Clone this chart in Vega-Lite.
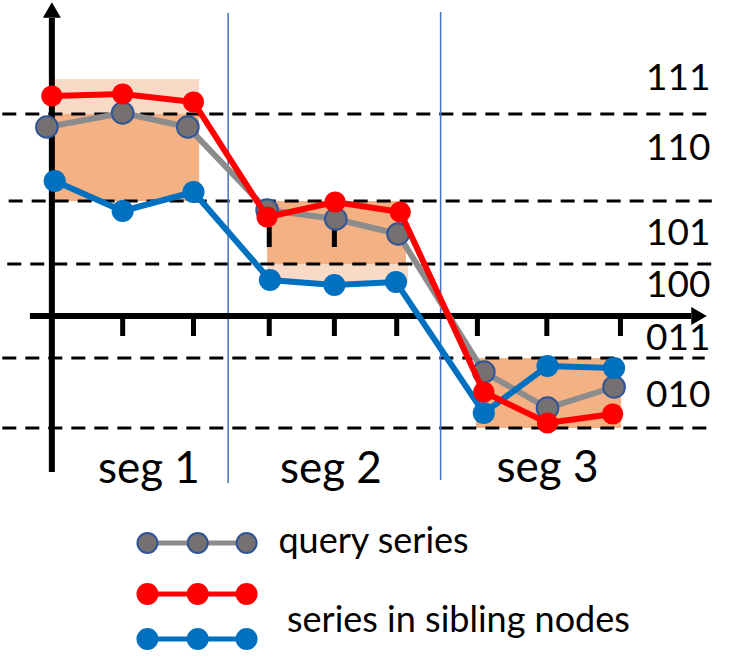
{
  "$schema": "https://vega.github.io/schema/vega-lite/v6.json",
  "width": 742,
  "height": 660,
  "padding": 0,
  "autosize": {"type": "fit", "contains": "padding"},
  "background": "white",
  "config": {"view": {"stroke": null}},
  "resolve": {"scale": {"color": "independent", "fill": "independent", "stroke": "independent", "shape": "independent"}},
  "datasets": {
    "series": [
      {"series": "query", "t": -0.07, "v": 18.9},
      {"series": "query", "t": 1.0, "v": 20.3},
      {"series": "query", "t": 1.92, "v": 18.9},
      {"series": "query", "t": 3.04, "v": 10.6},
      {"series": "query", "t": 4.01, "v": 9.7},
      {"series": "query", "t": 4.89, "v": 8.2},
      {"series": "query", "t": 6.1, "v": -5.6},
      {"series": "query", "t": 7.0, "v": -9.2},
      {"series": "query", "t": 7.94, "v": -7.1},
      {"series": "red", "t": 0.0, "v": 22.0},
      {"series": "red", "t": 1.0, "v": 22.2},
      {"series": "red", "t": 2.0, "v": 21.4},
      {"series": "red", "t": 3.04, "v": 9.9},
      {"series": "red", "t": 4.0, "v": 11.4},
      {"series": "red", "t": 4.92, "v": 10.4},
      {"series": "red", "t": 6.1, "v": -7.6},
      {"series": "red", "t": 7.0, "v": -10.7},
      {"series": "red", "t": 7.92, "v": -9.8},
      {"series": "blue", "t": 0.04, "v": 13.5},
      {"series": "blue", "t": 1.0, "v": 10.5},
      {"series": "blue", "t": 2.0, "v": 12.4},
      {"series": "blue", "t": 3.08, "v": 3.6},
      {"series": "blue", "t": 3.99, "v": 3.1},
      {"series": "blue", "t": 4.86, "v": 3.4},
      {"series": "blue", "t": 6.1, "v": -9.7},
      {"series": "blue", "t": 7.0, "v": -5.0},
      {"series": "blue", "t": 7.94, "v": -5.2}
    ],
    "boxes": [
      {"kind": "light", "t1": 0.03, "t2": 2.08, "v1": 23.7, "v2": 20.2},
      {"kind": "dark", "t1": 0.03, "t2": 2.08, "v1": 20.2, "v2": 11.5},
      {"kind": "dark", "t1": 3.04, "t2": 5.0, "v1": 11.5, "v2": 5.2},
      {"kind": "light", "t1": 3.04, "t2": 5.03, "v1": 5.2, "v2": 3.3},
      {"kind": "dark", "t1": 5.99, "t2": 8.04, "v1": -4.2, "v2": -11.2}
    ],
    "levels": [
      {"v": 20.2, "t1": -0.7, "t2": 9.25},
      {"v": 11.5, "t1": -0.61, "t2": 9.32},
      {"v": 5.2, "t1": -0.63, "t2": 9.32},
      {"v": -4.2, "t1": -0.7, "t2": 9.22},
      {"v": -11.2, "t1": -0.7, "t2": 9.25}
    ],
    "dividers": [
      {"t": 2.49, "v1": 30.3, "v2": -16.7},
      {"t": 5.49, "v1": 30.4, "v2": -16.4}
    ],
    "axes": [
      {"axis": "y", "t1": 0, "t2": 0, "v1": -15.6, "v2": 29.8},
      {"axis": "x", "t1": -0.31, "t2": 9.03, "v1": 0, "v2": 0}
    ],
    "arrows": [
      {"axis": "y", "t": 0, "v": 30.6},
      {"axis": "x", "t": 9.14, "v": 0}
    ],
    "ticks": [
      {"t": 1.0, "v1": 0, "v2": -2.0},
      {"t": 2.0, "v1": 0, "v2": -2.0},
      {"t": 3.07, "v1": 0, "v2": -2.0},
      {"t": 3.99, "v1": 0, "v2": -2.0},
      {"t": 4.87, "v1": 0, "v2": -2.0},
      {"t": 6.01, "v1": 0, "v2": -2.0},
      {"t": 6.99, "v1": 0, "v2": -2.0},
      {"t": 8.03, "v1": 0, "v2": -2.0},
      {"t": 3.07, "v1": 8.9, "v2": 6.9},
      {"t": 3.99, "v1": 8.9, "v2": 6.9}
    ],
    "codes": [
      {"label": "111", "t": 9.3, "v": 22.6},
      {"label": "110", "t": 9.3, "v": 15.6},
      {"label": "101", "t": 9.3, "v": 7.1},
      {"label": "100", "t": 9.3, "v": 1.9},
      {"label": "011", "t": 9.3, "v": -3.4},
      {"label": "010", "t": 9.3, "v": -9.1}
    ],
    "segs": [
      {"label": "seg 1", "t": 1.37, "v": -16.7},
      {"label": "seg 2", "t": 3.94, "v": -16.7},
      {"label": "seg 3", "t": 7.0, "v": -16.6}
    ],
    "legend": [
      {"series": "query", "t": 1.35, "v": -22.7},
      {"series": "query", "t": 2.06, "v": -22.7},
      {"series": "query", "t": 2.75, "v": -22.7},
      {"series": "red", "t": 1.35, "v": -27.8},
      {"series": "red", "t": 2.06, "v": -27.8},
      {"series": "red", "t": 2.75, "v": -27.8},
      {"series": "blue", "t": 1.35, "v": -32.3},
      {"series": "blue", "t": 2.06, "v": -32.3},
      {"series": "blue", "t": 2.75, "v": -32.3}
    ],
    "legendText": [
      {"label": "query series", "t": 3.2, "v": -23.7},
      {"label": "series in sibling nodes", "t": 3.32, "v": -31.6}
    ]
  },
  "layer": [
    {
      "data": {"name": "boxes"},
      "mark": {"type": "rect"},
      "encoding": {
        "x": {"field": "t1", "type": "quantitative", "scale": {"domain": [-0.7042, 9.7465], "nice": false, "zero": false}, "axis": null},
        "x2": {"field": "t2"},
        "y": {"field": "v1", "type": "quantitative", "scale": {"domain": [-34.4, 31.6], "nice": false, "zero": false}, "axis": null},
        "y2": {"field": "v2"},
        "fill": {"field": "kind", "type": "nominal", "scale": {"domain": ["light", "dark"], "range": ["#F9DAC6", "#F4B183"]}, "legend": null}
      }
    },
    {
      "data": {"name": "levels"},
      "mark": {"type": "rule", "color": "black", "strokeWidth": 3, "strokeDash": [14, 9]},
      "encoding": {
        "x": {"field": "t1", "type": "quantitative"},
        "x2": {"field": "t2"},
        "y": {"field": "v", "type": "quantitative"}
      }
    },
    {
      "data": {"name": "dividers"},
      "mark": {"type": "rule", "color": "#4472C4", "strokeWidth": 1.5},
      "encoding": {
        "x": {"field": "t", "type": "quantitative"},
        "y": {"field": "v1", "type": "quantitative"},
        "y2": {"field": "v2"}
      }
    },
    {
      "data": {"name": "axes"},
      "mark": {"type": "rule", "color": "black", "strokeWidth": 6},
      "encoding": {
        "x": {"field": "t1", "type": "quantitative"},
        "x2": {"field": "t2"},
        "y": {"field": "v1", "type": "quantitative"},
        "y2": {"field": "v2"}
      }
    },
    {
      "data": {"name": "arrows"},
      "mark": {"type": "point", "filled": true, "color": "black", "opacity": 1, "size": 324},
      "encoding": {
        "x": {"field": "t", "type": "quantitative"},
        "y": {"field": "v", "type": "quantitative"},
        "shape": {"field": "axis", "type": "nominal", "scale": {"domain": ["y", "x"], "range": ["triangle-up", "triangle-right"]}, "legend": null}
      }
    },
    {
      "data": {"name": "ticks"},
      "mark": {"type": "rule", "color": "black", "strokeWidth": 5},
      "encoding": {
        "x": {"field": "t", "type": "quantitative"},
        "y": {"field": "v1", "type": "quantitative"},
        "y2": {"field": "v2"}
      }
    },
    {
      "data": {"name": "series"},
      "transform": [{"filter": "datum.series === 'query'"}],
      "mark": {"type": "line", "color": "#8C8C8C", "strokeWidth": 6},
      "encoding": {
        "x": {"field": "t", "type": "quantitative"},
        "y": {"field": "v", "type": "quantitative"}
      }
    },
    {
      "data": {"name": "series"},
      "transform": [{"filter": "datum.series === 'query'"}],
      "mark": {"type": "point", "filled": true, "fill": "#767171", "stroke": "#2F5597", "strokeWidth": 2, "opacity": 1, "shape": "circle", "size": 470},
      "encoding": {
        "x": {"field": "t", "type": "quantitative"},
        "y": {"field": "v", "type": "quantitative"}
      }
    },
    {
      "data": {"name": "series"},
      "transform": [{"filter": "datum.series === 'blue'"}],
      "mark": {"type": "line", "color": "#0070C0", "strokeWidth": 6},
      "encoding": {
        "x": {"field": "t", "type": "quantitative"},
        "y": {"field": "v", "type": "quantitative"}
      }
    },
    {
      "data": {"name": "series"},
      "transform": [{"filter": "datum.series === 'blue'"}],
      "mark": {"type": "point", "filled": true, "color": "#0070C0", "opacity": 1, "shape": "circle", "size": 490},
      "encoding": {
        "x": {"field": "t", "type": "quantitative"},
        "y": {"field": "v", "type": "quantitative"}
      }
    },
    {
      "data": {"name": "series"},
      "transform": [{"filter": "datum.series === 'red'"}],
      "mark": {"type": "line", "color": "#FF0000", "strokeWidth": 6},
      "encoding": {
        "x": {"field": "t", "type": "quantitative"},
        "y": {"field": "v", "type": "quantitative"}
      }
    },
    {
      "data": {"name": "series"},
      "transform": [{"filter": "datum.series === 'red'"}],
      "mark": {"type": "point", "filled": true, "color": "#FF0000", "opacity": 1, "shape": "circle", "size": 450},
      "encoding": {
        "x": {"field": "t", "type": "quantitative"},
        "y": {"field": "v", "type": "quantitative"}
      }
    },
    {
      "data": {"name": "codes"},
      "mark": {"type": "text", "align": "right", "baseline": "alphabetic", "font": "Lato", "fontSize": 37, "color": "black"},
      "encoding": {
        "x": {"field": "t", "type": "quantitative"},
        "y": {"field": "v", "type": "quantitative"},
        "text": {"field": "label"}
      }
    },
    {
      "data": {"name": "segs"},
      "mark": {"type": "text", "align": "center", "baseline": "alphabetic", "font": "Lato", "fontSize": 44, "color": "black"},
      "encoding": {
        "x": {"field": "t", "type": "quantitative"},
        "y": {"field": "v", "type": "quantitative"},
        "text": {"field": "label"}
      }
    },
    {
      "data": {"name": "legend"},
      "mark": {"type": "line", "strokeWidth": 5},
      "encoding": {
        "x": {"field": "t", "type": "quantitative"},
        "y": {"field": "v", "type": "quantitative"},
        "detail": {"field": "series"},
        "stroke": {"field": "series", "type": "nominal", "scale": {"domain": ["query", "red", "blue"], "range": ["#8C8C8C", "#FF0000", "#0070C0"]}, "legend": null}
      }
    },
    {
      "data": {"name": "legend"},
      "mark": {"type": "point", "filled": true, "opacity": 1, "shape": "circle", "size": 400, "strokeWidth": 2},
      "encoding": {
        "x": {"field": "t", "type": "quantitative"},
        "y": {"field": "v", "type": "quantitative"},
        "fill": {"field": "series", "type": "nominal", "scale": {"domain": ["query", "red", "blue"], "range": ["#767171", "#FF0000", "#0070C0"]}, "legend": null},
        "stroke": {"field": "series", "type": "nominal", "scale": {"domain": ["query", "red", "blue"], "range": ["#2F5597", "#FF0000", "#0070C0"]}, "legend": null}
      }
    },
    {
      "data": {"name": "legendText"},
      "mark": {"type": "text", "align": "left", "baseline": "alphabetic", "font": "Lato", "fontSize": 36, "color": "black"},
      "encoding": {
        "x": {"field": "t", "type": "quantitative"},
        "y": {"field": "v", "type": "quantitative"},
        "text": {"field": "label"}
      }
    }
  ]
}
